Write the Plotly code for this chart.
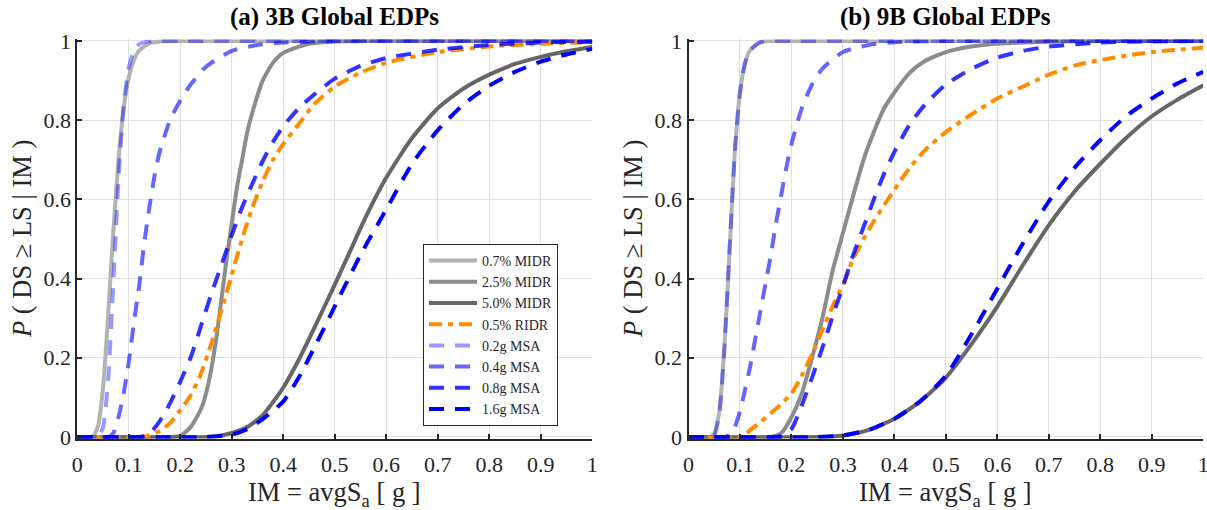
import plotly.graph_objects as go

# ---------------- data ----------------
legend_names = ["0.7% MIDR", "2.5% MIDR", "5.0% MIDR", "0.5% RIDR",
                "0.2g MSA", "0.4g MSA", "0.8g MSA", "1.6g MSA"]
panel_titles = ["(a) 3B Global EDPs", "(b) 9B Global EDPs"]
x_ticks = [0, 0.1, 0.2, 0.3, 0.4, 0.5, 0.6, 0.7, 0.8, 0.9, 1]
x_tick_text = ["0", "0.1", "0.2", "0.3", "0.4", "0.5", "0.6", "0.7", "0.8", "0.9", "1"]
y_ticks = [0, 0.2, 0.4, 0.6, 0.8, 1]
y_tick_text = ["0", "0.2", "0.4", "0.6", "0.8", "1"]

# ---- panel (a) 3B ----
a_midr07_x = [0, 0.03, 0.04, 0.05, 0.06, 0.07, 0.08, 0.09, 0.10, 0.11, 0.12, 0.14, 0.16, 0.2, 1.0]
a_midr07_y = [0, 0.002, 0.026, 0.125, 0.31, 0.52, 0.70, 0.83, 0.908, 0.952, 0.976, 0.994, 0.999, 1, 1]
a_midr25_x = [0, 0.18, 0.2, 0.22, 0.24, 0.25, 0.26, 0.27, 0.28, 0.29, 0.3, 0.31, 0.32, 0.33, 0.34, 0.36, 0.38, 0.4, 0.45, 0.5, 0.6, 1]
a_midr25_y = [0, 0, 0.003, 0.025, 0.07, 0.11, 0.17, 0.25, 0.35, 0.45, 0.54, 0.63, 0.70, 0.77, 0.82, 0.90, 0.945, 0.97, 0.993, 0.999, 1, 1]
a_midr50_x = [0, 0.25, 0.28, 0.3, 0.33, 0.36, 0.4, 0.43, 0.46, 0.5, 0.53, 0.56, 0.6, 0.65, 0.7, 0.75, 0.8, 0.85, 0.9, 0.95, 1.0]
a_midr50_y = [0, 0, 0.004, 0.01, 0.025, 0.055, 0.125, 0.195, 0.275, 0.385, 0.47, 0.555, 0.655, 0.755, 0.83, 0.88, 0.915, 0.942, 0.96, 0.974, 0.985]
a_ridr05_x = [0, 0.12, 0.14, 0.16, 0.18, 0.2, 0.22, 0.24, 0.26, 0.28, 0.3, 0.32, 0.34, 0.36, 0.38, 0.4, 0.43, 0.46, 0.5, 0.55, 0.6, 0.7, 0.8, 0.9, 1.0]
a_ridr05_y = [0, 0, 0.004, 0.015, 0.035, 0.068, 0.105, 0.16, 0.235, 0.32, 0.41, 0.5, 0.58, 0.645, 0.7, 0.74, 0.79, 0.84, 0.885, 0.92, 0.945, 0.972, 0.986, 0.993, 0.997]
a_msa02_x = [0, 0.04, 0.05, 0.06, 0.07, 0.08, 0.09, 0.10, 0.11, 0.12, 0.14, 0.16, 0.2, 1]
a_msa02_y = [0, 0.001, 0.025, 0.147, 0.39, 0.65, 0.836, 0.933, 0.976, 0.992, 0.999, 1, 1, 1]
a_msa04_x = [0, 0.06, 0.07, 0.08, 0.09, 0.10, 0.11, 0.12, 0.13, 0.14, 0.15, 0.16, 0.18, 0.20, 0.22, 0.25, 0.30, 0.35, 0.40, 0.5, 1]
a_msa04_y = [0, 0, 0.01, 0.05, 0.11, 0.19, 0.29, 0.38, 0.49, 0.58, 0.66, 0.72, 0.80, 0.85, 0.89, 0.935, 0.975, 0.99, 0.996, 1, 1]
a_msa08_x = [0, 0.12, 0.14, 0.16, 0.18, 0.2, 0.22, 0.24, 0.26, 0.28, 0.3, 0.32, 0.34, 0.36, 0.38, 0.4, 0.43, 0.46, 0.5, 0.55, 0.6, 0.7, 0.8, 0.9, 1.0]
a_msa08_y = [0, 0, 0.008, 0.04, 0.085, 0.14, 0.2, 0.28, 0.36, 0.435, 0.51, 0.58, 0.64, 0.697, 0.745, 0.785, 0.83, 0.865, 0.905, 0.937, 0.957, 0.978, 0.99, 0.996, 0.998]
a_msa16_x = [0, 0.25, 0.3, 0.33, 0.36, 0.4, 0.43, 0.46, 0.5, 0.55, 0.6, 0.65, 0.7, 0.75, 0.8, 0.85, 0.9, 0.95, 1.0]
a_msa16_y = [0, 0, 0.006, 0.02, 0.045, 0.09, 0.15, 0.225, 0.33, 0.46, 0.575, 0.69, 0.775, 0.84, 0.887, 0.922, 0.948, 0.966, 0.98]

# ---- panel (b) 9B ----
b_midr07_x = [0, 0.04, 0.05, 0.06, 0.07, 0.08, 0.09, 0.1, 0.11, 0.12, 0.14, 0.16, 0.2, 1]
b_midr07_y = [0, 0, 0.008, 0.067, 0.233, 0.475, 0.72, 0.87, 0.945, 0.977, 0.997, 1, 1, 1]
b_midr25_x = [0, 0.16, 0.18, 0.2, 0.22, 0.24, 0.26, 0.28, 0.3, 0.32, 0.34, 0.36, 0.38, 0.4, 0.43, 0.46, 0.5, 0.55, 0.6, 0.7, 0.8, 1]
b_midr25_y = [0, 0, 0.01, 0.05, 0.11, 0.2, 0.3, 0.42, 0.515, 0.61, 0.7, 0.77, 0.83, 0.87, 0.92, 0.95, 0.972, 0.986, 0.993, 0.998, 1, 1]
b_midr50_x = [0, 0.25, 0.3, 0.35, 0.4, 0.45, 0.5, 0.55, 0.6, 0.65, 0.7, 0.75, 0.8, 0.85, 0.9, 0.95, 1.0]
b_midr50_y = [0, 0, 0.004, 0.018, 0.046, 0.09, 0.15, 0.235, 0.33, 0.435, 0.535, 0.62, 0.69, 0.755, 0.81, 0.852, 0.888]
b_ridr05_x = [0, 0.1, 0.11, 0.12, 0.14, 0.16, 0.18, 0.2, 0.22, 0.24, 0.26, 0.28, 0.3, 0.32, 0.34, 0.36, 0.38, 0.4, 0.43, 0.46, 0.5, 0.55, 0.6, 0.65, 0.7, 0.75, 0.8, 0.85, 0.9, 0.95, 1.0]
b_ridr05_y = [0, 0, 0.005, 0.018, 0.038, 0.06, 0.083, 0.11, 0.155, 0.21, 0.27, 0.33, 0.385, 0.45, 0.5, 0.545, 0.585, 0.625, 0.68, 0.725, 0.77, 0.815, 0.855, 0.885, 0.915, 0.938, 0.952, 0.963, 0.972, 0.978, 0.983]
b_msa02_x = [0, 0.045, 0.05, 0.06, 0.07, 0.08, 0.09, 0.1, 0.11, 0.12, 0.14, 0.16, 0.2, 1]
b_msa02_y = [0, 0, 0.004, 0.06, 0.23, 0.48, 0.72, 0.87, 0.945, 0.977, 0.997, 1, 1, 1]
b_msa04_x = [0, 0.07, 0.08, 0.09, 0.1, 0.11, 0.12, 0.13, 0.14, 0.15, 0.16, 0.17, 0.18, 0.19, 0.2, 0.22, 0.24, 0.26, 0.3, 0.35, 0.4, 0.5, 1]
b_msa04_y = [0, 0, 0.005, 0.025, 0.065, 0.12, 0.18, 0.25, 0.32, 0.39, 0.46, 0.54, 0.61, 0.68, 0.74, 0.83, 0.89, 0.93, 0.972, 0.99, 0.997, 1, 1]
b_msa08_x = [0, 0.17, 0.18, 0.2, 0.22, 0.24, 0.26, 0.28, 0.3, 0.32, 0.34, 0.36, 0.38, 0.4, 0.43, 0.46, 0.5, 0.55, 0.6, 0.65, 0.7, 0.8, 0.9, 1]
b_msa08_y = [0, 0, 0.003, 0.02, 0.08, 0.15, 0.225, 0.305, 0.38, 0.46, 0.53, 0.6, 0.665, 0.72, 0.79, 0.84, 0.89, 0.93, 0.958, 0.975, 0.986, 0.996, 0.999, 1]
b_msa16_x = [0, 0.25, 0.3, 0.35, 0.4, 0.45, 0.5, 0.55, 0.6, 0.65, 0.7, 0.75, 0.8, 0.85, 0.9, 0.95, 1.0]
b_msa16_y = [0, 0, 0.004, 0.018, 0.046, 0.09, 0.155, 0.26, 0.375, 0.49, 0.595, 0.68, 0.75, 0.81, 0.855, 0.893, 0.922]

panel_a = [(a_midr07_x, a_midr07_y), (a_midr25_x, a_midr25_y), (a_midr50_x, a_midr50_y),
           (a_ridr05_x, a_ridr05_y), (a_msa02_x, a_msa02_y), (a_msa04_x, a_msa04_y),
           (a_msa08_x, a_msa08_y), (a_msa16_x, a_msa16_y)]
panel_b = [(b_midr07_x, b_midr07_y), (b_midr25_x, b_midr25_y), (b_midr50_x, b_midr50_y),
           (b_ridr05_x, b_ridr05_y), (b_msa02_x, b_msa02_y), (b_msa04_x, b_msa04_y),
           (b_msa08_x, b_msa08_y), (b_msa16_x, b_msa16_y)]

# ---------------- styles ----------------
colors = ["#b3b3b3", "#8c8c8c", "#666666", "#ff8c00",
          "rgba(0,0,255,0.4)", "rgba(0,0,255,0.6)", "rgba(0,0,255,0.8)", "rgba(0,0,255,1)"]
DASH = "15px,11px"
DASHDOT = "13px,6px,5px,6px"
dashes = ["solid", "solid", "solid", DASHDOT, DASH, DASH, DASH, DASH]
widths = [4, 4, 4, 4, 4, 4, 4, 4]

W, H = 1207, 510
FONT = "Liberation Serif, Times New Roman, serif"
TXT = "#262626"

fig = go.Figure()
for p, (panel, xa, ya) in enumerate([(panel_a, "x", "y"), (panel_b, "x2", "y2")]):
    for i, (xs, ys) in enumerate(panel):
        fig.add_trace(go.Scatter(
            x=xs, y=ys, mode="lines", name=legend_names[i],
            line=dict(color=colors[i], width=widths[i], dash=dashes[i], shape="spline", smoothing=0.6),
            showlegend=(p == 0), xaxis=xa, yaxis=ya, hoverinfo="skip"))

yr = [-0.004, 1.004]
top_px, bot_px = 41, 437
unit = (bot_px - top_px)
ydom = [1 - (bot_px + unit * 0.004) / H, 1 - (top_px - unit * 0.004) / H]
xdoms = [[77.3 / W, 592.3 / W], [688.5 / W, 1203.3 / W]]

axis_common = dict(showline=True, linecolor=TXT, linewidth=2, mirror=False,
                   ticks="inside", ticklen=5, tickwidth=1.5, tickcolor=TXT,
                   showgrid=True, gridcolor="#e0e0e0", gridwidth=1, zeroline=False,
                   automargin=False, ticklabeloverflow="allow",
                   tickfont=dict(family=FONT, size=22, color=TXT))

layout = dict(width=W, height=H, margin=dict(l=0, r=0, t=0, b=0, autoexpand=False),
              paper_bgcolor="white", plot_bgcolor="white",
              showlegend=True,
              legend=dict(x=423 / W, y=1 - 244 / H, xanchor="left", yanchor="top",
                          bgcolor="white", bordercolor=TXT, borderwidth=1,
                          font=dict(family=FONT, size=14, color=TXT), itemwidth=48,
                          tracegroupgap=0))
for k, suffix in enumerate(["", "2"]):
    layout["xaxis" + suffix] = dict(axis_common, domain=xdoms[k], range=[0, 1],
                                    tickvals=x_ticks, ticktext=x_tick_text,
                                    anchor="y" + suffix, ticklabelstandoff=5)
    layout["yaxis" + suffix] = dict(axis_common, domain=ydom, range=yr,
                                    tickvals=y_ticks, ticktext=y_tick_text,
                                    anchor="x" + suffix, ticklabelstandoff=0)
fig.update_layout(**layout)

anns = []
centers = [(77.3 + 592.3) / 2, (688.5 + 1203.3) / 2]
ylab_x = [22, 633]
for k in range(2):
    anns.append(dict(text="<b>" + panel_titles[k] + "</b>", x=centers[k] / W, y=1 - 17 / H,
                     xref="paper", yref="paper", xanchor="center", yanchor="middle",
                     showarrow=False, font=dict(family=FONT, size=25, color="black")))
    anns.append(dict(text="IM = avgS<sub>a</sub> [ g ]", x=centers[k] / W, y=1 - 494 / H,
                     xref="paper", yref="paper", xanchor="center", yanchor="middle",
                     showarrow=False, font=dict(family=FONT, size=26.5, color=TXT)))
    anns.append(dict(text="<i>P</i> ( DS \u2265 LS | IM )", x=ylab_x[k] / W, y=1 - 239 / H,
                     xref="paper", yref="paper", xanchor="center", yanchor="middle",
                     textangle=-90, showarrow=False, font=dict(family=FONT, size=26.5, color=TXT)))
fig.update_layout(annotations=anns)

fig.write_html("out.html", config={"displayModeBar": False},
               post_script="document.body.style.margin='0px';")
